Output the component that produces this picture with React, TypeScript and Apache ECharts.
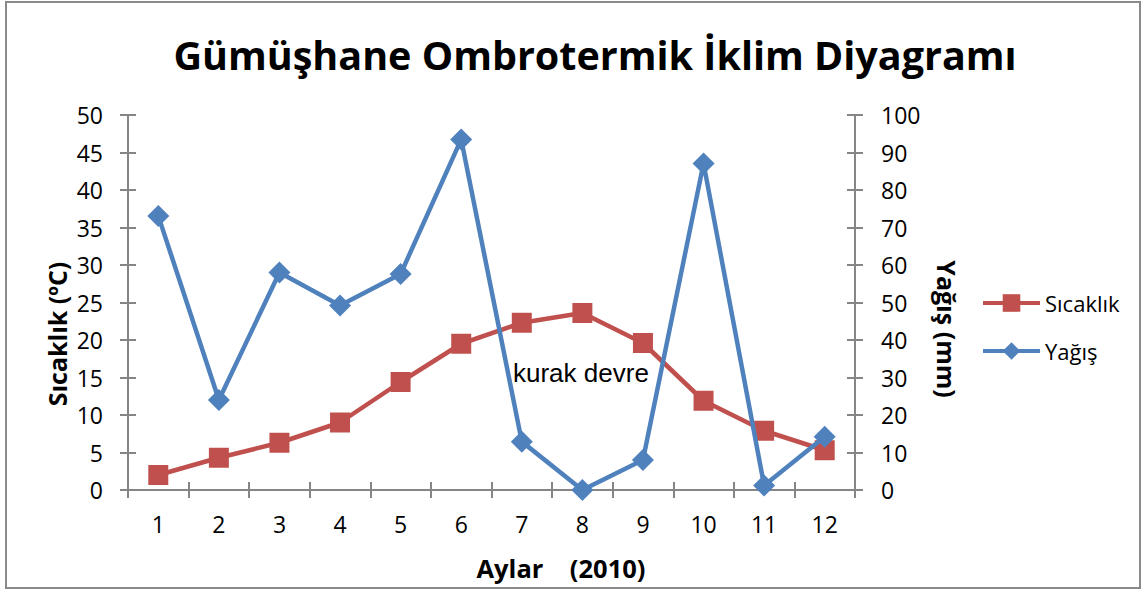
import React, { useEffect, useRef } from "react";
import * as echarts from "echarts";

const months = ["1", "2", "3", "4", "5", "6", "7", "8", "9", "10", "11", "12"];
const sicaklik = [2.0, 4.3, 6.3, 9.0, 14.4, 19.5, 22.3, 23.6, 19.6, 11.9, 7.9, 5.3];
const yagis = [73.1, 24.0, 58.0, 49.2, 57.6, 93.5, 12.9, 0, 8.0, 87.1, 1.2, 14.2];
const leftAxis = { min: 0, max: 50, interval: 5 };
const rightAxis = { min: 0, max: 100, interval: 10 };

const RED = "#C0504D";
const BLUE = "#4F81BD";
const AXIS = "#868686";
const FONT = "'Open Sans', sans-serif";

export default function App() {
  const ref = useRef<HTMLDivElement>(null);
  useEffect(() => {
    document.body.style.margin = "0";
    const chart = echarts.init(ref.current!, null, { renderer: "svg" });
    const labelStyle = { color: "#000", fontSize: 23, fontFamily: FONT };
    const yBase = (pos: "left" | "right", ax: any, inside: boolean, margin: number) => ({
      type: "value",
      position: pos,
      min: ax.min,
      max: ax.max,
      interval: ax.interval,
      splitLine: { show: false },
      axisLine: { show: !inside, lineStyle: { color: AXIS, width: 2 } },
      axisTick: { show: true, inside, length: 8, lineStyle: { color: AXIS, width: 2 } },
      axisLabel: { show: !inside, margin, ...labelStyle },
    });
    const xBase = (inside: boolean) => ({
      type: "category",
      position: "bottom",
      data: months,
      boundaryGap: true,
      axisLine: { show: !inside, lineStyle: { color: AXIS, width: 2 } },
      axisTick: { show: true, inside, interval: 0, length: 8, lineStyle: { color: AXIS, width: 2 } },
      axisLabel: { show: !inside, interval: 0, margin: 22, ...labelStyle },
      splitLine: { show: false },
    });
    chart.setOption({
      animation: false,
      grid: { left: 128, top: 115, width: 727, height: 375, containLabel: false },
      xAxis: [xBase(false), xBase(true)],
      yAxis: [
        yBase("left", leftAxis, false, 25),
        yBase("left", leftAxis, true, 25),
        yBase("right", rightAxis, false, 26),
        yBase("right", rightAxis, true, 26),
      ],
      legend: {
        orient: "vertical",
        left: 976,
        top: 287,
        itemWidth: 57,
        itemHeight: 22,
        itemGap: 26,
        lineStyle: { width: 4 },
        textStyle: { color: "#000", fontSize: 22, fontFamily: FONT },
        data: ["Sıcaklık", "Yağış"],
      },
      series: [
        {
          name: "Sıcaklık",
          type: "line",
          xAxisIndex: 0,
          yAxisIndex: 0,
          data: sicaklik,
          symbol: "rect",
          symbolSize: 20,
          lineStyle: { color: RED, width: 4.5 },
          itemStyle: { color: RED },
          z: 3,
        },
        {
          name: "Yağış",
          type: "line",
          xAxisIndex: 0,
          yAxisIndex: 2,
          data: yagis,
          symbol: "diamond",
          symbolSize: 22,
          lineStyle: { color: BLUE, width: 4.5 },
          itemStyle: { color: BLUE },
          z: 4,
        },
      ],
      graphic: [
        {
          type: "rect",
          shape: { x: 6, y: 2, width: 1134, height: 586 },
          style: { fill: "none", stroke: "#8a8a8a", lineWidth: 2 },
          silent: true,
        },
        {
          type: "text",
          x: 595,
          y: 55,
          style: {
            text: "Gümüşhane Ombrotermik İklim Diyagramı",
            fontSize: 39.5,
            fontWeight: "bold",
            fontFamily: FONT,
            fill: "#000",
            align: "center",
            verticalAlign: "middle",
          },
        },
        {
          type: "text",
          x: 57,
          y: 334,
          rotation: Math.PI / 2,
          style: {
            text: "Sıcaklık (ºC)",
            fontSize: 25,
            fontWeight: "bold",
            fontFamily: FONT,
            fill: "#000",
            align: "center",
            verticalAlign: "middle",
          },
        },
        {
          type: "text",
          x: 947,
          y: 329,
          rotation: -Math.PI / 2,
          style: {
            text: "Yağış (mm)",
            fontSize: 25,
            fontWeight: "bold",
            fontFamily: FONT,
            fill: "#000",
            align: "center",
            verticalAlign: "middle",
          },
        },
        {
          type: "text",
          x: 561,
          y: 568,
          style: {
            text: "Aylar    (2010)",
            fontSize: 25.5,
            fontWeight: "bold",
            fontFamily: FONT,
            fill: "#000",
            align: "center",
            verticalAlign: "middle",
          },
        },
        {
          type: "text",
          x: 513,
          y: 373,
          z: 10,
          style: {
            text: "kurak devre",
            fontSize: 26,
            fontFamily: "'Liberation Sans', Arial, sans-serif",
            fill: "#000",
            align: "left",
            verticalAlign: "middle",
          },
        },
      ],
    });
    return () => chart.dispose();
  }, []);
  return <div ref={ref} style={{ width: 1146, height: 592 }} />;
}
